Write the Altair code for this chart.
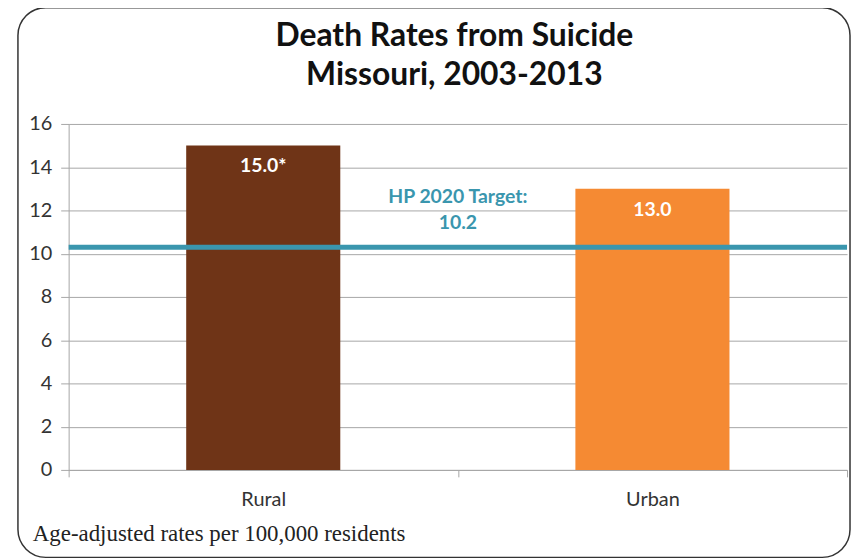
import altair as alt
import pandas as pd

categories = ["Rural", "Urban"]
rates = [15.0, 13.0]
rate_labels = ["15.0*", "13.0"]
bar_colors = ["#6F3417", "#F58A33"]
y_ticks = [0, 2, 4, 6, 8, 10, 12, 14, 16]
target_value = 10.3
target_label = ["HP 2020 Target:", "10.2"]
target_label_y = [12.6, 11.4]
title_lines = ["Death Rates from Suicide", "Missouri, 2003-2013"]
footnote = ["Age-adjusted rates per 100,000 residents"]

PW, PH = 783, 348
SANS = "Lato"

df = pd.DataFrame({"cat": categories, "rate": rates, "label": rate_labels, "color": bar_colors})
tdf = pd.DataFrame({"t": [target_value]})
adf = pd.DataFrame({"text": target_label, "y": target_label_y})

x_enc = alt.X("cat:N", title=None, sort=categories,
              scale=alt.Scale(paddingInner=0, paddingOuter=0),
              axis=alt.Axis(labelAngle=0, tickBand="extent", labelFontSize=20, labelFont=SANS,
                            labelColor="#333333", tickSize=7, tickColor="#a6a6a6",
                            domainColor="#a6a6a6", labelPadding=13, grid=False))
y_scale = alt.Scale(domain=[0, 16], nice=False)

border = alt.Chart(pd.DataFrame({"a": [0]})).mark_rect(
    fill=None, stroke="#333333", strokeWidth=1.5, cornerRadius=28, clip=False
).encode(x=alt.value(-51), x2=alt.value(786), y=alt.value(-117), y2=alt.value(436))

bars = alt.Chart(df).mark_bar(size=155).encode(
    x=x_enc,
    y=alt.Y("rate:Q", title=None, scale=y_scale,
            axis=alt.Axis(values=y_ticks, labelFontSize=20, labelFont=SANS, labelColor="#333333",
                          tickSize=8, tickColor="#a6a6a6", domainColor="#a6a6a6",
                          gridColor="#a6a6a6", labelPadding=9)),
    color=alt.Color("color:N", scale=None),
)

bar_text = alt.Chart(df).mark_text(color="white", fontWeight="bold", fontSize=19.5, font=SANS,
                                   dy=21, baseline="middle").encode(
    x=alt.X("cat:N", sort=categories), y=alt.Y("rate:Q", scale=y_scale), text="label:N")

target = alt.Chart(tdf).mark_rule(color="#3A96AE", strokeWidth=5).encode(
    y=alt.Y("t:Q", scale=y_scale))

ann = alt.Chart(adf).mark_text(color="#3A96AE", fontWeight="bold", fontSize=19.5, font=SANS,
                               baseline="middle").encode(
    x=alt.value(PW / 2), y=alt.Y("y:Q", scale=y_scale), text="text:N")

tdf2 = pd.DataFrame({"text": title_lines, "yy": [-78, -39]})
title = alt.Chart(tdf2).mark_text(font=SANS, fontWeight="bold", fontSize=32, color="#111111",
                                  baseline="alphabetic", align="center").encode(
    x=alt.value(388), y=alt.Y("yy:Q", scale=None), text="text:N")

foot = alt.Chart(pd.DataFrame({"f": footnote})).mark_text(
    font="Liberation Serif", fontSize=23, align="left", baseline="alphabetic", color="#222222"
).encode(x=alt.value(-36), y=alt.value(420), text="f:N")

chart = alt.layer(border, bars, target, bar_text, ann, title, foot).properties(
    width=PW, height=PH,
    autosize=alt.AutoSizeParams(type="none"),
    padding={"left": 61, "top": 115, "right": 5, "bottom": 88},
).configure_view(stroke=None)

chart.save("out.html", embed_options={"renderer": "svg", "actions": False})
